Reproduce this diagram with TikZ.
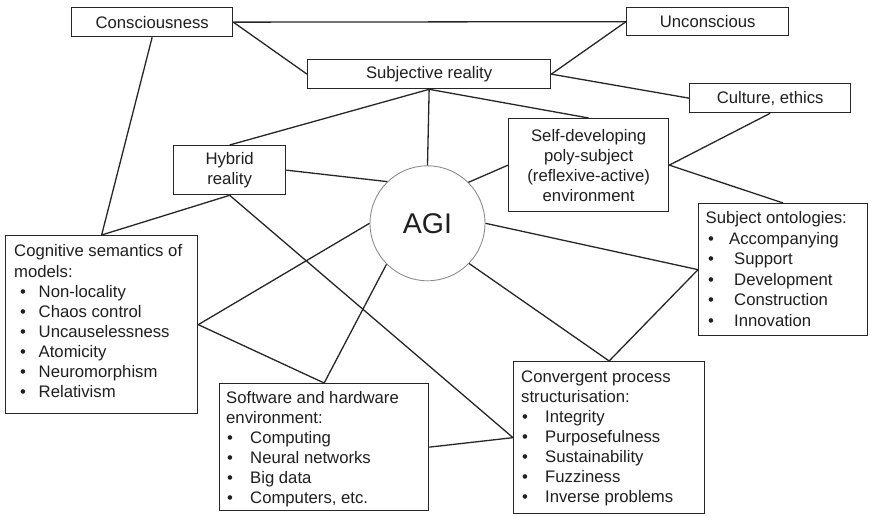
\documentclass[tikz,border=0pt]{standalone}
\usepackage{fontspec}
\setmainfont{Liberation Sans}
\begin{document}
\begin{tikzpicture}[x=1pt,y=-1pt,
  every node/.style={text=black!88},
  txtfont/.style={font=\fontsize{16.7}{20}\selectfont},
  box/.style={draw=black!85, line width=1.3pt, fill=white, inner sep=0pt,
    anchor=north west, txtfont, align=center},
  link/.style={draw=black!85, line width=1.3pt},
  hub/.style={circle, draw=black!45, line width=0.9pt, minimum size=115pt,
    inner sep=0pt, font=\fontsize{28.5}{30}\selectfont},
  line/.style={anchor=base west, inner sep=0pt, txtfont}
]
\useasboundingbox (0,0) rectangle (871,516);

% central hub
\node[hub] (agi) at (427.5,223.3) {AGI};

% boxes
\node[box, minimum width=161, minimum height=29] (cons) at (71,7) {Consciousness};
\node[box, minimum width=162, minimum height=28] (uncon) at (626,7) {Unconscious};
\node[box, minimum width=243, minimum height=29] (subj) at (307,59) {Subjective reality};
\node[box, minimum width=161, minimum height=29] (cult) at (689,83) {Culture, ethics};
\node[box, minimum width=112, minimum height=49] (hyb) at (173,145) {Hybrid\\reality};
\node[box, minimum width=160, minimum height=93] (selfd) at (508,118)
  {Self-developing\\poly-subject\\(reflexive-active)\\environment};
\node[box, minimum width=169, minimum height=132] (ont) at (698,203) {};
\node[box, minimum width=192, minimum height=178] (cog) at (5,235) {};
\node[box, minimum width=209, minimum height=127] (soft) at (219,383) {};
\node[box, minimum width=191, minimum height=152] (conv) at (513,361) {};

% list texts
\node[line] (ont-h) at (705.5,223.5) {Subject ontologies:};
\node[line] (ont-b0) at (708,244) {•};
\node[line] (ont-0) at (729,244) {Accompanying};
\foreach \t [count=\i] in {Support, Development, Construction, Innovation}
  \node[line] (ont-b\i) at (708,244+20.5*\i) {•}
    node[line] (ont-\i) at (734,244+20.5*\i) {\t};

\node[line] (cog-h1) at (14,257) {Cognitive semantics of};
\node[line] (cog-h2) at (14,277) {models:};
\foreach \t [count=\i] in {Non-locality, Chaos control, Uncauselessness,
    Atomicity, Neuromorphism, Relativism}
  \node[line] (cog-b\i) at (20,277+20.1*\i) {•}
    node[line] (cog-\i) at (38.5,277+20.1*\i) {\t};

\node[line] (soft-h1) at (226,403) {Software and hardware};
\node[line] (soft-h2) at (226,423) {environment:};
\foreach \t [count=\i] in {Computing, Neural networks, Big data, {Computers, etc.}}
  \node[line] (soft-b\i) at (227,423+20.2*\i) {•}
    node[line] (soft-\i) at (250,423+20.2*\i) {\t};

\node[line] (conv-h1) at (521,382) {Convergent process};
\node[line] (conv-h2) at (521,402) {structurisation:};
\foreach \t [count=\i] in {Integrity, Purposefulness, Sustainability,
    Fuzziness, Inverse problems}
  \node[line] (conv-b\i) at (522,402+20*\i) {•}
    node[line] (conv-\i) at (545,402+20*\i) {\t};

% connectors
\draw[link] (cons.east) -- (uncon.west);
\draw[link] (cons.east) -- (subj.west);
\draw[link] (subj.east) -- (uncon.west);
\draw[link] (subj.east) -- (cult.west);
\draw[link] (cons.south) -- (cog.north);
\draw[link] (hyb.south) -- (cog.north);
\draw[link] (hyb.south) -- (conv.west);
\draw[link] (subj.south) -- (hyb.north);
\draw[link] (subj.south) -- (agi.north);
\draw[link] (subj.south) -- (selfd.north);
\draw[link] (hyb.east) -- (agi.134);
\draw[link] (selfd.west) -- (agi.45);
\draw[link] (selfd.east) -- (cult.south);
\draw[link] (selfd.east) -- (ont.north);
\draw[link] (agi.east) -- (ont.west);
\draw[link] (agi.-44) -- (conv.north);
\draw[link] (ont.west) -- (conv.north);
\draw[link] (cog.east) -- (agi.west);
\draw[link] (cog.east) -- (soft.north);
\draw[link] (soft.north) -- (agi.225);
\draw[link] (soft.east) -- (conv.west);
\end{tikzpicture}
\end{document}
